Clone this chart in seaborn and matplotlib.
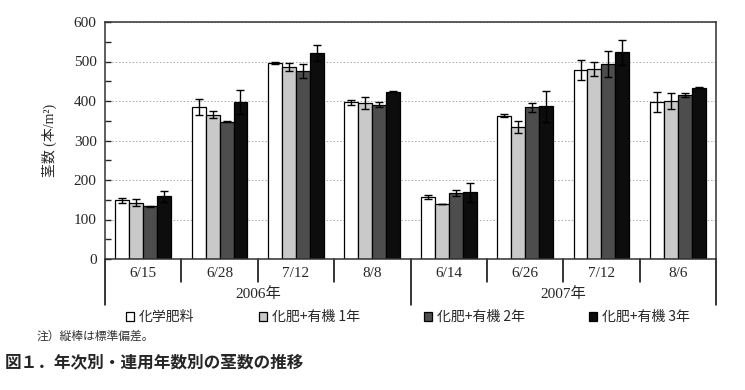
import pandas as pd
import numpy as np
import seaborn as sns
import matplotlib.pyplot as plt
from matplotlib.transforms import blended_transform_factory
from matplotlib.ticker import MultipleLocator

# Data
dates = ['6/15', '6/28', '7/12', '8/8', '6/14', '6/26', '7/12', '8/6']
years = ['2006年', '2006年', '2006年', '2006年', '2007年', '2007年', '2007年', '2007年']
treatments = ['化学肥料', '化肥+有機 1年', '化肥+有機 2年', '化肥+有機 3年']

chem = [149, 384, 496, 397, 156, 363, 478, 397]
org1 = [143, 365, 486, 395, 138, 335, 482, 401]
org2 = [133, 348, 476, 391, 167, 384, 493, 416]
org3 = [159, 398, 522, 424, 169, 387, 523, 434]

chem_sd = [6, 20, 2, 6, 5, 3, 25, 25]
org1_sd = [10, 9, 11, 16, 0, 15, 18, 20]
org2_sd = [2, 2, 18, 7, 7, 12, 33, 5]
org3_sd = [14, 30, 21, 1, 24, 39, 31, 2]

colors = ['#ffffff', '#c9c9c9', '#4d4d4d', '#0d0d0d']

# Long table, hue-major so patch order follows it
slots = [f'{y}-{d}' for y, d in zip(years, dates)]
rows = []
for t, vals, sds in zip(treatments, [chem, org1, org2, org3],
                        [chem_sd, org1_sd, org2_sd, org3_sd]):
    for s, v, e in zip(slots, vals, sds):
        rows.append({'slot': s, 'treatment': t, 'count': v, 'sd': e})
df = pd.DataFrame(rows)

sns.set_style('white')
plt.rcParams['font.family'] = ['Liberation Serif', 'Noto Sans CJK JP']

fig = plt.figure(figsize=(7.45, 3.9), dpi=100)
ax = fig.add_axes([105 / 745, 1 - 259 / 390, (716 - 105) / 745, (259 - 22) / 390])

sns.barplot(data=df, x='slot', y='count', hue='treatment', order=slots,
            hue_order=treatments, palette=colors, width=0.73,
            edgecolor='black', linewidth=0.9, errorbar=None, legend=True, ax=ax)

# Error bars on the bar centres
for patch, e in zip(ax.patches, df['sd']):
    xc = patch.get_x() + patch.get_width() / 2
    ax.errorbar(xc, patch.get_height(), yerr=e, fmt='none', ecolor='black',
                elinewidth=1.0, capsize=3, capthick=1.0, zorder=5)

handles, labels = ax.get_legend_handles_labels()
ax.get_legend().remove()

ax.set_xlim(-0.5, len(slots) - 0.5)
ax.set_ylim(0, 600)
ax.yaxis.set_major_locator(MultipleLocator(100))
ax.yaxis.set_minor_locator(MultipleLocator(50))
ax.set_xticks(range(len(slots)))
ax.set_xticklabels(dates, fontsize=11)
ax.tick_params(axis='x', length=0, pad=6)
ax.tick_params(axis='y', which='both', direction='in', length=4, width=1,
               labelsize=11, left=True, pad=6)
ax.set_xlabel('')
ax.set_ylabel('茎数 (本/m²)', fontsize=10, labelpad=12)
ax.grid(axis='y', which='major', linestyle=(0, (1.5, 2)), color='#aaaaaa', linewidth=0.7)
ax.set_axisbelow(True)
for sp in ax.spines.values():
    sp.set_visible(True)
    sp.set_color('#333333')
    sp.set_linewidth(1.1)

# Group separators below the axis
trans = blended_transform_factory(ax.transData, ax.transAxes)
for i in range(len(slots) + 1):
    xb = i - 0.5
    long = i in (0, 4, 8)
    ybot = -0.195 if long else -0.097
    ax.plot([xb, xb], [0, ybot], transform=trans, color='black', lw=1.1,
            clip_on=False)

for yr in ['2006年', '2007年']:
    idx = [i for i, y in enumerate(years) if y == yr]
    ax.text(np.mean(idx), -0.148, yr, transform=trans, ha='center', va='center',
            fontsize=11)

fig.legend(handles, labels, ncol=4, loc='center left',
           bbox_to_anchor=(126 / 745, 1 - 317 / 390), frameon=False,
           handlelength=0.6, handleheight=0.6, handletextpad=0.35,
           columnspacing=4.6, borderaxespad=0, borderpad=0,
           prop={'family': 'Noto Sans CJK JP', 'size': 10})

fig.text(37 / 745, 1 - 336 / 390, '注）縦棒は標準偏差。', fontsize=8.5,
         family='Noto Sans CJK JP', va='center', color='#333333')
fig.text(5 / 745, 1 - 362 / 390, '図１．年次別・連用年数別の茎数の推移', fontsize=12,
         family='Noto Sans CJK JP', fontweight='bold', va='center')

fig.savefig('out.png', dpi=100)
